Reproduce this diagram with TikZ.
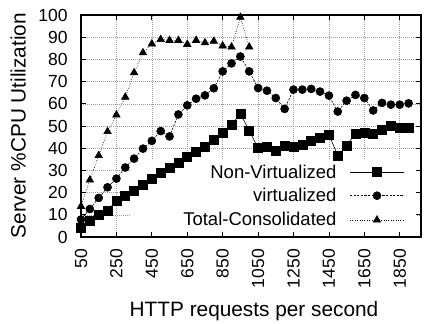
\documentclass[tikz,border=0pt]{standalone}
\usepackage{fontspec}
\setmainfont{Liberation Sans}
\usetikzlibrary{plotmarks,calc}

\begin{document}
\begin{tikzpicture}
    \tikzstyle{data} = [shift={(72.146pt,87pt)}, x=0.17708pt, y=2.22pt]
    \tikzstyle{gridline} = [draw=gray!80, line width=0.5pt, dash pattern=on 0.7pt off 1.3pt]
    \tikzstyle{frame} = [draw=black, line width=1.1pt]
    \tikzstyle{tickmark} = [draw=black, line width=0.8pt]
    \tikzstyle{ticklabel} = [inner sep=0pt, font=\fontsize{17.5}{17.5}\selectfont]
    \tikzstyle{keytext} = [inner sep=0pt, font=\fontsize{18.5}{18.5}\selectfont]
    \tikzstyle{axislabel} = [inner sep=0pt, font=\fontsize{20.8}{20.8}\selectfont]
    \tikzstyle{nonvirt} = [black, line width=0.6pt, mark=square*, mark size=4.5pt]
    \tikzstyle{virt} = [black, line width=0.6pt, dash pattern=on 2.2pt off 1.4pt, mark=*, mark size=4pt, mark options={solid}]
    \tikzstyle{total} = [black, line width=0.6pt, dash pattern=on 0.8pt off 1.6pt, mark=triangle*, mark size=4.3pt, mark options={solid}]

    \useasboundingbox (0,0) rectangle (432pt,324pt);

    % grid
    \begin{scope}[data]
        \foreach \gx in {250,450,...,1850}
            \draw [gridline] (\gx,0) -- (\gx,100);
        \foreach \gy in {10,20,...,90}
            \draw [gridline] (50,\gy) -- (1970,\gy);
    \end{scope}

    % key background
    \fill [white] (131pt,88pt) rectangle (416pt,164pt);

    % curves
    \begin{scope}[data]
        \draw [nonvirt] plot coordinates {(50,4.2) (100,7.3) (150,9.8) (200,11.9) (250,16.5) (300,18.6) (350,20.6) (400,23.6) (450,26.2) (500,28.9) (550,31.2) (600,33.6) (650,36.2) (700,38.6) (750,40.8) (800,43.8) (850,47.1) (900,50.5) (950,55.5) (1000,48) (1050,40) (1100,40.5) (1150,39) (1200,41.3) (1250,40.5) (1300,41.6) (1350,43.2) (1400,44.7) (1450,46.2) (1500,36.6) (1550,41.3) (1600,46.5) (1650,47) (1700,46.5) (1750,48.3) (1800,49.9) (1850,49) (1900,49)};
        \draw [virt] plot coordinates {(50,7.9) (100,12.6) (150,17.6) (200,22.4) (250,26.3) (300,31.3) (350,35.3) (400,39.8) (450,43.3) (500,47.7) (550,45.3) (600,55.2) (650,59.3) (700,62.3) (750,63.8) (800,67) (850,74.6) (900,78.2) (950,81.3) (1000,74.6) (1050,67.1) (1100,65.9) (1150,62.6) (1200,57.7) (1250,66.4) (1300,66.4) (1350,66.7) (1400,65.5) (1450,63.7) (1500,56.5) (1550,61.4) (1600,64) (1650,62.6) (1700,57) (1750,60.4) (1800,59.6) (1850,59.6) (1900,60.2)};
        \draw [total] plot coordinates {(50,13.8) (100,25.7) (150,36.7) (200,47.5) (250,55) (300,63) (350,74) (400,83) (450,87) (500,89) (550,88.6) (600,88.6) (650,86.8) (700,88.6) (750,87.5) (800,88.2) (850,86.1) (900,85.6) (950,99) (1000,85.6)};
    \end{scope}

    % frame, ticks and tick labels
    \begin{scope}[data]
        \draw [frame] (50,0) rectangle (1970,100);
        \foreach \gx in {50,250,...,1850} {
            \draw [tickmark] (\gx,0) -- ++(0pt,5pt);
            \draw [tickmark] (\gx,100) -- ++(0pt,-5pt);
            \node [ticklabel, rotate=90, anchor=east] (xt\gx) at ([yshift=-12pt]\gx,0) {\gx};
        }
        \foreach \gy in {0,10,...,100} {
            \draw [tickmark] (50,\gy) -- ++(5pt,0pt);
            \draw [tickmark] (1970,\gy) -- ++(-5pt,0pt);
            \node [ticklabel, anchor=east] (yt\gy) at ([xshift=-13.3pt]50,\gy) {\gy};
        }
    \end{scope}

    % axis labels
    \node [axislabel, anchor=base] (xlab) at (254pt,7.3pt) {HTTP requests per second};
    \node [axislabel, rotate=90] (ylab) at (18.3pt,198.3pt) {Server \%CPU Utilization};

    % key
    \node [keytext, anchor=base east] (knon) at (336.7pt,145.7pt) {Non-Virtualized};
    \node [keytext, anchor=base east] (kvirt) at (336.7pt,122.3pt) {virtualized};
    \node [keytext, anchor=base east] (ktotal) at (336.7pt,98pt) {Total-Consolidated};
    \foreach \k in {knon,kvirt,ktotal} {
        \coordinate (\k A) at ($(\k.base east)+(13.3pt,6pt)$);
        \coordinate (\k M) at ($(\k.base east)+(40.3pt,6pt)$);
        \coordinate (\k B) at ($(\k.base east)+(67.3pt,6pt)$);
    }
    \draw [nonvirt, mark indices={2}] plot coordinates {(knonA) (knonM) (knonB)};
    \draw [virt, mark indices={2}] plot coordinates {(kvirtA) (kvirtM) (kvirtB)};
    \draw [total, mark indices={2}] plot coordinates {(ktotalA) (ktotalM) (ktotalB)};
\end{tikzpicture}
\end{document}
